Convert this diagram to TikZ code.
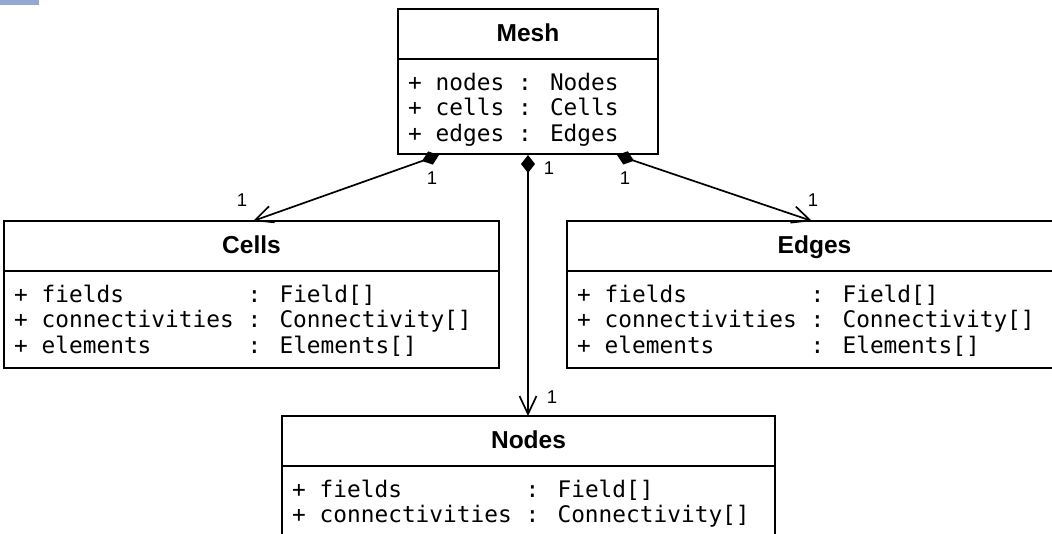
\documentclass[tikz,border=0pt]{standalone}
\usepackage{fontspec}
\usetikzlibrary{arrows.meta}
\newfontfamily\hsans{Liberation Sans}
\newfontfamily\monof{DejaVu Sans Mono}
\definecolor{tabblue}{HTML}{93A9D1}
\newcommand\hdfont{\hsans\bfseries\fontsize{24.5}{28}\selectfont}
\newcommand\atfont{\monof\fontsize{22.8}{25.5}\selectfont}
\newcommand\lbfont{\hsans\fontsize{18.5}{20}\selectfont}
\newcommand\attr[2]{\makebox[10.234em][l]{#1}#2}
\tikzset{
  hdr/.style={draw, line width=1.7pt, anchor=north west, inner sep=0pt, outer sep=0pt,
    minimum height=50pt, text height=18pt, text depth=4pt, font=\hdfont},
  bodybox/.style={draw, line width=1.7pt, anchor=north west, inner sep=0pt, outer sep=0pt},
  attrline/.style={anchor=base west, inner sep=0pt, font=\atfont},
  lbl/.style={inner sep=0pt, font=\lbfont},
  conn/.style={line width=1.7pt,
    {Diamond[length=18pt,width=14pt]}-{Straight Barb[length=18pt,width=17pt]}}
}
\begin{document}
\begin{tikzpicture}[x=1pt,y=-1pt]
\useasboundingbox (0,0) rectangle (1052,533);
\clip (0,0) rectangle (1052,533);
\fill[tabblue] (0,0) rectangle (39,5);

% Mesh
\node[hdr, minimum width=260pt] (meshH) at (398,9) {Mesh};
\node[bodybox, minimum width=260pt, minimum height=95pt] (meshB) at (meshH.south west) {};
\node[attrline] (mesh1) at ([shift={(10,31)}]meshB.north west) {+ nodes : Nodes};
\node[attrline] (mesh2) at ([shift={(10,56.5)}]meshB.north west) {+ cells : Cells};
\node[attrline] (mesh3) at ([shift={(10,82)}]meshB.north west) {+ edges : Edges};

% Cells
\node[hdr, minimum width=495pt] (cellsH) at (4,221) {Cells};
\node[bodybox, minimum width=495pt, minimum height=97pt] (cellsB) at (cellsH.south west) {};
\node[attrline] (cells1) at ([shift={(10,31)}]cellsB.north west) {\attr{+ fields}{: Field[]}};
\node[attrline] (cells2) at ([shift={(10,56.5)}]cellsB.north west) {\attr{+ connectivities}{: Connectivity[]}};
\node[attrline] (cells3) at ([shift={(10,82)}]cellsB.north west) {\attr{+ elements}{: Elements[]}};

% Edges
\node[hdr, minimum width=495pt] (edgesH) at (567,221) {Edges};
\node[bodybox, minimum width=495pt, minimum height=97pt] (edgesB) at (edgesH.south west) {};
\node[attrline] (edges1) at ([shift={(10,31)}]edgesB.north west) {\attr{+ fields}{: Field[]}};
\node[attrline] (edges2) at ([shift={(10,56.5)}]edgesB.north west) {\attr{+ connectivities}{: Connectivity[]}};
\node[attrline] (edges3) at ([shift={(10,82)}]edgesB.north west) {\attr{+ elements}{: Elements[]}};

% Nodes
\node[hdr, minimum width=493pt] (nodesH) at (282,416) {Nodes};
\node[bodybox, minimum width=493pt, minimum height=75pt] (nodesB) at (nodesH.south west) {};
\node[attrline] (nodes1) at ([shift={(10,31)}]nodesB.north west) {\attr{+ fields}{: Field[]}};
\node[attrline] (nodes2) at ([shift={(10,56.5)}]nodesB.north west) {\attr{+ connectivities}{: Connectivity[]}};

% connector ends
\coordinate (mL) at (439,155);
\coordinate (mM) at (528,155);
\coordinate (mR) at (617,155);
\coordinate (cT) at (253,221);
\coordinate (eT) at (812,221);
\coordinate (nT) at (528,416);

\draw[conn] (mL) -- (cT);
\draw[conn] (mM) -- (nT);
\draw[conn] (mR) -- (eT);

% multiplicities
\node[lbl] (lmL) at (432,178) {1};
\node[lbl] (lmM) at (549,168) {1};
\node[lbl] (lmR) at (625,178) {1};
\node[lbl] (lcT) at (242,200) {1};
\node[lbl] (leT) at (813,200) {1};
\node[lbl] (lnT) at (552,397) {1};
\end{tikzpicture}
\end{document}
